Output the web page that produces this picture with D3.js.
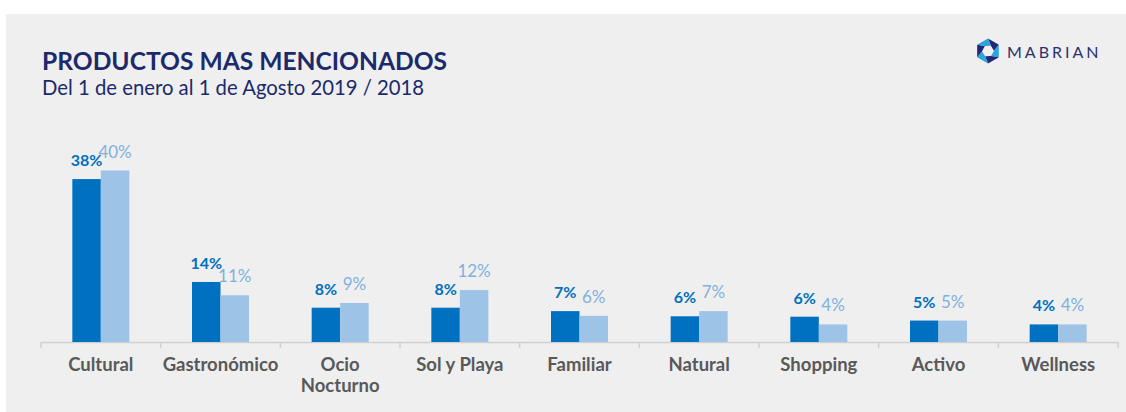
<!DOCTYPE html>
<html>
<head>
<meta charset="utf-8">
<script src="https://cdn.jsdelivr.net/npm/d3@7"></script>
<style>
  body { margin: 0; background: #fff; }
  svg { display: block; font-family: Lato, "Open Sans", sans-serif; }
</style>
</head>
<body>
<div id="chart"></div>
<script>
// data
const categories = ['Cultural', 'Gastronómico', 'Ocio\nNocturno', 'Sol y Playa', 'Familiar', 'Natural', 'Shopping', 'Activo', 'Wellness'];
const values2019 = [38, 14, 8, 8, 7.2, 6, 5.9, 5, 4.1];
const values2018 = [40, 10.9, 9.1, 12.1, 6.1, 7.2, 4.1, 5, 4.1];
const labels2019 = ['38%', '14%', '8%', '8%', '7%', '6%', '6%', '5%', '4%'];
const labels2018 = ['40%', '11%', '9%', '12%', '6%', '7%', '4%', '5%', '4%'];

const width = 1126, height = 412;
const dark = '#0070c0', light = '#9dc3e6';

const svg = d3.select('#chart')
    .append('svg')
    .attr('width', width)
    .attr('height', height);

// grey panel
svg.append('rect')
    .attr('x', 6)
    .attr('y', 14)
    .attr('width', width - 6)
    .attr('height', height - 14)
    .attr('fill', '#efefef');

// title
svg.append('text')
    .attr('x', 42)
    .attr('y', 70)
    .text('PRODUCTOS MAS MENCIONADOS')
    .style('font-size', '24.6px')
    .style('font-weight', 'bold')
    .style('fill', '#1b2a6b');
svg.append('text')
    .attr('x', 42)
    .attr('y', 95)
    .text('Del 1 de enero al 1 de Agosto 2019 / 2018')
    .style('font-size', '20.3px')
    .style('fill', '#1b2a6b');

// logo
const logo = svg.append('g').attr('transform', 'translate(988,51)');
const R = 12.5, r = 6;
for (let i = 0; i < 6; i++) {
    const a0 = Math.PI / 3 * i - Math.PI / 2;
    const a1 = a0 + Math.PI / 3;
    const pts = [
        [R * Math.cos(a0), R * Math.sin(a0)],
        [R * Math.cos(a1), R * Math.sin(a1)],
        [r * Math.cos(a1 + 0.5), r * Math.sin(a1 + 0.5)],
        [r * Math.cos(a0 + 0.5), r * Math.sin(a0 + 0.5)]
    ];
    logo.append('path')
        .attr('d', 'M' + pts.join('L') + 'Z')
        .attr('fill', i % 2 == 0 ? '#1e2a78' : '#2ea3dc');
}
svg.append('text')
    .attr('x', 1007)
    .attr('y', 58)
    .text('MABRIAN')
    .style('font-size', '16px')
    .style('letter-spacing', '3px')
    .style('fill', '#2b3170');

// scales
const x = d3.scaleBand()
    .domain(categories)
    .range([41, 1118]);
const x1 = d3.scaleBand()
    .domain(['2019', '2018'])
    .range([0, 57]);
const y = d3.scaleLinear()
    .domain([0, 40])
    .range([342, 170.5]);

// axis
const axis = svg.append('g')
    .attr('transform', 'translate(0,342)')
    .call(d3.axisBottom(x).tickSize(0).tickFormat(''));
axis.select('.domain').attr('stroke', '#d0d0d0').attr('stroke-width', 1.5);
svg.selectAll('.sep')
    .data(d3.range(categories.length + 1))
    .enter()
    .append('line')
    .attr('x1', (i) => 41 + i * x.step())
    .attr('x2', (i) => 41 + i * x.step())
    .attr('y1', 342)
    .attr('y2', 348)
    .attr('stroke', '#d0d0d0')
    .attr('stroke-width', 1.5);

// bars
const groups = svg.selectAll('.grp')
    .data(categories)
    .enter()
    .append('g')
    .attr('class', 'grp')
    .attr('transform', (d) => `translate(${x(d) + x.bandwidth() / 2 - 28.5},0)`);

groups.append('rect')
    .attr('x', x1('2019'))
    .attr('width', x1.bandwidth())
    .attr('y', (d, i) => y(values2019[i]))
    .attr('height', (d, i) => y(0) - y(values2019[i]))
    .attr('fill', dark);
groups.append('rect')
    .attr('x', x1('2018'))
    .attr('width', x1.bandwidth())
    .attr('y', (d, i) => y(values2018[i]))
    .attr('height', (d, i) => y(0) - y(values2018[i]))
    .attr('fill', light);

groups.append('text')
    .attr('x', x1('2019') + x1.bandwidth() / 2)
    .attr('y', (d, i) => y(values2019[i]) - 13)
    .text((d, i) => labels2019[i])
    .style('font-size', '16px')
    .style('font-weight', 'bold')
    .style('fill', dark)
    .style('text-anchor', 'middle');
groups.append('text')
    .attr('x', x1('2018') + x1.bandwidth() / 2)
    .attr('y', (d, i) => y(values2018[i]) - 13)
    .text((d, i) => labels2018[i])
    .style('font-size', '17px')
    .style('font-weight', 'normal')
    .style('fill', '#7fb1de')
    .style('text-anchor', 'middle');

// category labels
groups.each(function(d) {
    const t = d3.select(this).append('text')
        .attr('x', 28.5)
        .attr('y', 371)
        .style('font-size', '18.5px')
        .style('font-weight', 'bold')
        .style('fill', '#595959')
        .style('text-anchor', 'middle');
    d.split('\n').forEach((line, j) => {
        t.append('tspan')
            .attr('x', 28.5)
            .attr('dy', j == 0 ? 0 : 21)
            .text(line);
    });
});
</script>
</body>
</html>
